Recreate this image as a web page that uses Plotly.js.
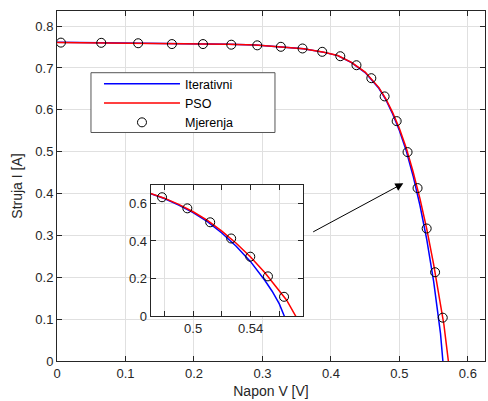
<!DOCTYPE html>
<html>
<head>
<meta charset="utf-8">
<script src="https://cdn.plot.ly/plotly-3.0.1.min.js"></script>
<style>
html,body{margin:0;padding:0;background:#fff;}
#chart{width:488px;height:401px;}
</style>
</head>
<body>
<div id="chart"></div>
<script>
// Measured points (Mjerenja)
const measV = [0.0057, 0.0646, 0.1185, 0.1678, 0.2132, 0.2545, 0.2924, 0.3269, 0.3585, 0.3873,
               0.4137, 0.4373, 0.4590, 0.4784, 0.4960, 0.5119, 0.5265, 0.5398, 0.5521, 0.5633];
const measI = [0.7605, 0.7600, 0.7590, 0.7570, 0.7570, 0.7555, 0.7540, 0.7505, 0.7465, 0.7385,
               0.7280, 0.7065, 0.6755, 0.6320, 0.5730, 0.4990, 0.4130, 0.3165, 0.2120, 0.1035];

// PSO model curve (red)
const psoV = [0, 0.05, 0.10, 0.15, 0.20, 0.25, 0.29, 0.33, 0.36, 0.39, 0.41, 0.43, 0.45, 0.47,
              0.48, 0.49, 0.50, 0.51, 0.52, 0.53, 0.54, 0.55, 0.56, 0.565, 0.5715];
const psoI = [0.7610, 0.7603, 0.7596, 0.7588, 0.7578, 0.7565, 0.7545, 0.7500, 0.7460, 0.7375,
              0.7298, 0.7135, 0.6900, 0.6530, 0.6270, 0.5940, 0.5550, 0.5090, 0.4520, 0.3880,
              0.3150, 0.2310, 0.1380, 0.0870, 0];

// Iterative model curve (blue)
const iterV = [0, 0.05, 0.10, 0.15, 0.20, 0.25, 0.29, 0.33, 0.36, 0.39, 0.41, 0.43, 0.45, 0.47,
               0.48, 0.49, 0.50, 0.51, 0.52, 0.53, 0.54, 0.55, 0.555, 0.56, 0.5635];
const iterI = [0.7612, 0.7605, 0.7598, 0.7590, 0.7580, 0.7566, 0.7546, 0.7500, 0.7458, 0.7372,
               0.7294, 0.7128, 0.6890, 0.6515, 0.6250, 0.5905, 0.5505, 0.5020, 0.4420, 0.3720,
               0.2900, 0.1900, 0.1330, 0.0660, 0];

const xTicks = [0, 0.1, 0.2, 0.3, 0.4, 0.5, 0.6];
const xTickText = ['0', '0.1', '0.2', '0.3', '0.4', '0.5', '0.6'];
const yTicks = [0, 0.1, 0.2, 0.3, 0.4, 0.5, 0.6, 0.7, 0.8];
const yTickText = ['0', '0.1', '0.2', '0.3', '0.4', '0.5', '0.6', '0.7', '0.8'];
const insetXTicks = [0.48, 0.50, 0.52, 0.54, 0.56];
const insetXTickText = ['', '0.5', '', '0.54', ''];
const insetYTicks = [0, 0.2, 0.4, 0.6];
const insetYTickText = ['0', '0.2', '0.4', '0.6'];

const seriesNames = ['Iterativni', 'PSO', 'Mjerenja'];

const txtColor = '#262626';
const gridColor = '#e0e0e0';
const FONT = 'Liberation Sans, Arial, sans-serif';

const traces = [
  {x: iterV, y: iterI, mode: 'lines', name: seriesNames[0], line: {color: '#0000ff', width: 1.5}, xaxis: 'x', yaxis: 'y'},
  {x: psoV, y: psoI, mode: 'lines', name: seriesNames[1], line: {color: '#ff0000', width: 1.5}, xaxis: 'x', yaxis: 'y'},
  {x: measV, y: measI, mode: 'markers', name: seriesNames[2],
   marker: {symbol: 'circle-open', size: 9, color: '#000000', line: {width: 1, color: '#000000'}}, xaxis: 'x', yaxis: 'y'},
  {x: iterV, y: iterI, mode: 'lines', showlegend: false, line: {color: '#0000ff', width: 1.5}, xaxis: 'x2', yaxis: 'y2'},
  {x: psoV, y: psoI, mode: 'lines', showlegend: false, line: {color: '#ff0000', width: 1.5}, xaxis: 'x2', yaxis: 'y2'},
  {x: measV, y: measI, mode: 'markers', showlegend: false,
   marker: {symbol: 'circle-open', size: 9, color: '#000000', line: {width: 1, color: '#000000'}}, xaxis: 'x2', yaxis: 'y2'}
];

const axBase = {
  showline: true, linecolor: txtColor, linewidth: 1, mirror: 'ticks',
  ticks: 'inside', ticklen: 5, tickcolor: txtColor, tickwidth: 1,
  showgrid: true, gridcolor: gridColor, gridwidth: 1, zeroline: false,
  tickfont: {family: FONT, size: 13, color: txtColor}
};

const layout = {
  width: 488, height: 401,
  margin: {l: 57, r: 3, t: 11, b: 40},
  paper_bgcolor: '#ffffff', plot_bgcolor: '#ffffff',
  font: {family: FONT, color: txtColor},
  showlegend: true,
  legend: {
    x: 0.0794, y: 0.8337, xanchor: 'left', yanchor: 'top',
    bgcolor: 'rgba(0,0,0,0)', borderwidth: 0,
    font: {family: FONT, size: 12.5, color: '#000000'},
    itemwidth: 76, indentation: 8
  },
  shapes: [{
    type: 'rect', xref: 'paper', yref: 'paper',
    x0: 0.0794, x1: 0.5093, y0: 0.6529, y1: 0.8237,
    line: {color: '#555555', width: 1}, fillcolor: '#ffffff', layer: 'above'
  }],
  xaxis: Object.assign({}, axBase, {
    range: [0, 0.625], tickmode: 'array', tickvals: xTicks, ticktext: xTickText,
    title: {text: 'Napon V [V]', font: {family: FONT, size: 14, color: txtColor}, standoff: 6},
    domain: [0, 1], anchor: 'y'
  }),
  yaxis: Object.assign({}, axBase, {
    range: [0, 0.836], tickmode: 'array', tickvals: yTicks, ticktext: yTickText,
    title: {text: 'Struja I [A]', font: {family: FONT, size: 14, color: txtColor}, standoff: 9},
    domain: [0, 1], anchor: 'x'
  }),
  xaxis2: Object.assign({}, axBase, {
    range: [0.4705, 0.5767], tickmode: 'array', tickvals: insetXTicks, ticktext: insetXTickText,
    domain: [0.2189, 0.5755], anchor: 'y2'
  }),
  yaxis2: Object.assign({}, axBase, {
    range: [0, 0.697], tickmode: 'array', tickvals: insetYTicks, ticktext: insetYTickText,
    domain: [0.1277, 0.5029], anchor: 'x2'
  }),
  annotations: [{
    x: 0.5057, y: 0.4244, xref: 'x', yref: 'y',
    ax: 0.3719, ay: 0.3065, axref: 'x', ayref: 'y',
    showarrow: true, arrowhead: 2, arrowsize: 1.6, arrowwidth: 1, arrowcolor: '#000000', text: ''
  }]
};

Plotly.newPlot('chart', traces, layout, {displayModeBar: false, staticPlot: true});
</script>
</body>
</html>
